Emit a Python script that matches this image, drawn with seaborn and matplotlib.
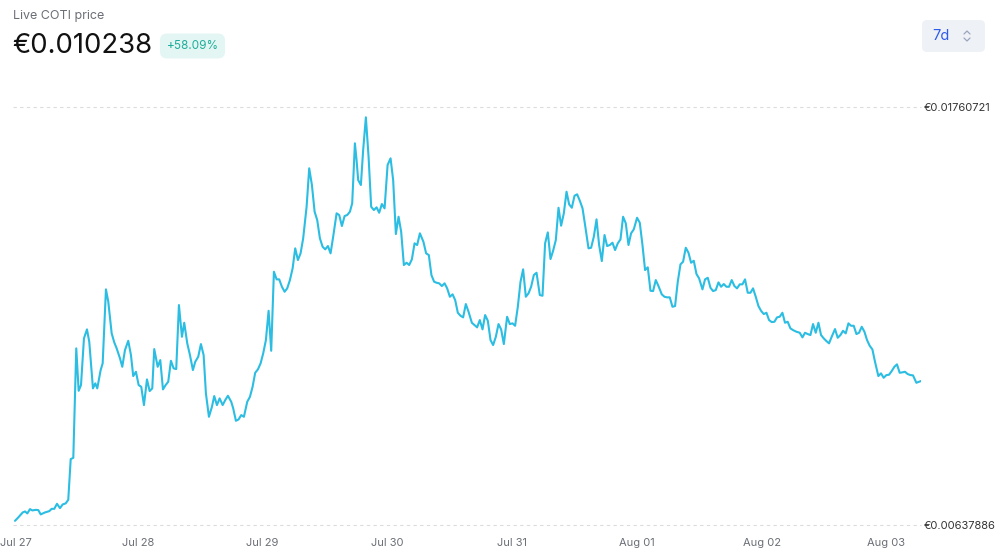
import matplotlib.pyplot as plt
import matplotlib.dates as mdates
from matplotlib.patches import FancyBboxPatch
from matplotlib.lines import Line2D
from matplotlib.transforms import IdentityTransform, ScaledTranslation
import pandas as pd
import seaborn as sns

# hours since Jul 27 00:00, price in EUR
hours = [
    0.38, 1.02, 1.87, 2.31, 2.75, 3.27, 3.71, 4.42, 4.87, 5.33, 6.15, 6.98, 7.44, 7.94,
    8.46, 9.04, 9.56, 10.13, 10.63, 11.10, 11.60, 12.17, 12.63, 13.08, 13.65, 14.23, 14.67,
    15.38, 15.83, 16.21, 16.86, 17.25, 17.88, 18.33, 18.98, 19.48, 19.94, 20.58, 21.02,
    21.54, 22.17, 22.69, 23.13, 23.65, 24.17, 24.67, 25.19, 25.77, 26.29, 26.79, 27.17,
    27.83, 28.33, 28.85, 29.36, 29.86, 30.38, 30.90, 31.40, 31.92, 32.50, 32.94, 33.52,
    34.04, 34.61, 35.06, 35.63, 36.15, 36.67, 37.11, 37.69, 38.27, 38.71, 39.23, 39.75,
    40.33, 40.83, 41.34, 41.98, 42.36, 42.88, 43.40, 43.90, 44.42, 45.06, 45.58, 46.09,
    46.59, 47.11, 47.63, 48.13, 48.65, 49.17, 49.67, 50.19, 50.71, 51.21, 51.73, 52.25,
    52.75, 53.27, 53.79, 54.29, 54.81, 55.32, 55.82, 56.48, 56.98, 57.50, 58.02, 58.52,
    59.04, 59.56, 60.06, 60.58, 61.09, 61.59, 62.25, 62.75, 63.27, 63.79, 64.29, 64.81,
    65.25, 65.77, 66.09, 66.40, 66.92, 67.36, 67.88, 68.40, 68.90, 69.42, 69.94, 70.44,
    70.96, 71.48, 72.06, 72.63, 73.13, 73.65, 74.17, 74.67, 75.19, 75.71, 76.21, 76.73,
    77.25, 77.75, 78.27, 78.95, 79.47, 79.99, 80.49, 81.01, 81.48, 81.98, 82.50, 83.02,
    83.52, 84.04, 84.56, 85.06, 85.57, 86.09, 86.59, 87.11, 87.63, 88.27, 88.78, 89.28,
    89.80, 90.32, 90.82, 91.34, 91.86, 92.36, 92.88, 93.40, 93.90, 94.42, 95.05, 95.57,
    96.09, 96.59, 97.11, 97.63, 98.13, 98.65, 99.17, 99.67, 100.19, 100.71, 101.34, 101.86,
    102.36, 102.88, 103.40, 103.90, 104.42, 104.94, 105.44, 105.96, 106.48, 106.98, 107.50,
    108.02, 108.52, 109.04, 109.56, 110.05, 110.71, 111.21, 111.73, 112.25, 112.75, 113.27,
    113.79, 114.29, 114.80, 115.32, 115.82, 116.34, 116.86, 117.36, 117.88, 118.40, 118.90,
    119.42, 120.05, 120.57, 121.09, 121.59, 122.11, 122.63, 123.13, 123.65, 124.17, 124.80,
    125.32, 125.82, 126.34, 126.86, 127.36, 127.88, 128.40, 128.90, 129.42, 129.94, 130.44,
    130.96, 131.48, 131.98, 132.63, 133.13, 133.65, 134.17, 134.67, 135.19, 135.71, 136.21,
    136.73, 137.24, 137.74, 138.26, 138.78, 139.28, 139.80, 140.32, 140.82, 141.34, 141.86,
    142.36, 142.88, 143.40, 143.90, 144.42, 144.94, 145.44, 145.96, 146.47, 146.97, 147.49,
    148.01, 148.51, 149.03, 149.55, 150.05, 150.71, 151.34, 151.86, 152.36, 152.88, 153.40,
    153.90, 154.42, 154.94, 155.44, 155.96, 156.48, 156.98, 157.49, 158.13, 158.65, 159.17,
    159.67, 160.19, 160.71, 161.21, 161.73, 162.25, 162.75, 163.27, 163.79, 164.29, 164.80,
    165.32, 165.82, 166.47, 166.97, 167.49, 168.01, 168.51, 169.03, 169.55, 170.05, 170.57,
    171.09, 171.59, 172.11, 172.63, 173.13, 173.78, 174.28, 174.67,
]
prices = [
    0.006478, 0.006570, 0.006704, 0.006731, 0.006678, 0.006793, 0.006758, 0.006774, 0.006766,
    0.006651, 0.006704, 0.006739, 0.006801, 0.006801, 0.006936, 0.006820, 0.006920, 0.006947,
    0.007043, 0.008138, 0.008173, 0.011116, 0.009975, 0.010129, 0.011385, 0.011627, 0.011294,
    0.010040, 0.010175, 0.010040, 0.010532, 0.010713, 0.012703, 0.012370, 0.011520, 0.011277,
    0.011116, 0.010847, 0.010621, 0.011070, 0.011320, 0.010936, 0.010371, 0.010487, 0.010129,
    0.010083, 0.009591, 0.010282, 0.009967, 0.010040, 0.011097, 0.010621, 0.010801, 0.010013,
    0.010129, 0.010218, 0.010782, 0.010578, 0.010559, 0.012281, 0.011428, 0.011805, 0.011251,
    0.010936, 0.010532, 0.010756, 0.010890, 0.011232, 0.010936, 0.009906, 0.009276, 0.009545,
    0.009833, 0.009591, 0.009771, 0.009591, 0.009725, 0.009841, 0.009680, 0.009502, 0.009168,
    0.009206, 0.009322, 0.009276, 0.009680, 0.009814, 0.010083, 0.010460, 0.010551, 0.010713,
    0.010982, 0.011339, 0.012127, 0.011051, 0.013177, 0.012972, 0.012972, 0.012773, 0.012639,
    0.012730, 0.012953, 0.013268, 0.013806, 0.013491, 0.013672, 0.014075, 0.014925, 0.015958,
    0.015509, 0.014791, 0.014567, 0.014075, 0.013849, 0.013779, 0.013868, 0.013672, 0.014118,
    0.014748, 0.014702, 0.014406, 0.014675, 0.014702, 0.014791, 0.015017, 0.016631, 0.016181,
    0.015643, 0.015509, 0.016450, 0.017330, 0.016270, 0.014925, 0.014836, 0.014909, 0.014764,
    0.014998, 0.014882, 0.016047, 0.016227, 0.015643, 0.014191, 0.014656, 0.014253, 0.013357,
    0.013419, 0.013357, 0.013510, 0.013941, 0.013895, 0.014210, 0.013984, 0.013672, 0.013626,
    0.013088, 0.012908, 0.012881, 0.012865, 0.012792, 0.012865, 0.012730, 0.012504, 0.012569,
    0.012415, 0.012074, 0.011993, 0.011950, 0.012308, 0.012101, 0.011805, 0.011743, 0.011681,
    0.011877, 0.011627, 0.012012, 0.011858, 0.011339, 0.011205, 0.011428, 0.011770, 0.011627,
    0.011232, 0.011966, 0.011770, 0.011789, 0.011724, 0.012235, 0.012908, 0.013241, 0.012504,
    0.012596, 0.012773, 0.013088, 0.013150, 0.012550, 0.012531, 0.013941, 0.014236, 0.013518,
    0.013741, 0.014029, 0.014898, 0.014414, 0.014748, 0.015329, 0.014990, 0.014898, 0.015221,
    0.015259, 0.015086, 0.014882, 0.014433, 0.013806, 0.013822, 0.014118, 0.014586, 0.013895,
    0.013464, 0.014164, 0.013868, 0.013895, 0.013957, 0.013760, 0.013941, 0.014048, 0.014656,
    0.014479, 0.013895, 0.014210, 0.014317, 0.014629, 0.014495, 0.013895, 0.013222, 0.013295,
    0.012665, 0.012657, 0.012953, 0.012792, 0.012569, 0.012504, 0.012488, 0.012488, 0.012235,
    0.012254, 0.012908, 0.013376, 0.013446, 0.013822, 0.013688, 0.013419, 0.013472, 0.013115,
    0.012999, 0.012703, 0.012972, 0.013015, 0.012746, 0.012657, 0.012684, 0.012891, 0.012773,
    0.012846, 0.012773, 0.012773, 0.012953, 0.012792, 0.012730, 0.012838, 0.012838, 0.012972,
    0.012612, 0.012612, 0.012730, 0.012504, 0.012254, 0.012127, 0.012039, 0.012074, 0.011877,
    0.011823, 0.011831, 0.011950, 0.011966, 0.012074, 0.011805, 0.011831, 0.011654, 0.011608,
    0.011563, 0.011536, 0.011412, 0.011536, 0.011501, 0.011474, 0.011770, 0.011536, 0.011805,
    0.011474, 0.011385, 0.011312, 0.011251, 0.011428, 0.011635, 0.011401, 0.011474, 0.011589,
    0.011520, 0.011789, 0.011724, 0.011724, 0.011501, 0.011536, 0.011697, 0.011563, 0.011339,
    0.011186, 0.011089, 0.010756, 0.010371, 0.010444, 0.010325, 0.010398, 0.010406, 0.010505,
    0.010621, 0.010686, 0.010460, 0.010471, 0.010487, 0.010425, 0.010398, 0.010390, 0.010191,
    0.010218, 0.010238,
]
start = pd.Timestamp("2021-07-27")
y_low, y_high = 0.00637886, 0.01760721
price_now = "€0.010238"
change_7d = "+58.09%"
period = "7d"

sns.set_style("white")
plt.rcParams["font.family"] = ["Inter", "DejaVu Sans"]

df = pd.DataFrame({"time": start + pd.to_timedelta(hours, unit="h"), "price": prices})

fig = plt.figure(figsize=(10, 5.57), dpi=100)
ax = fig.add_axes([0.013, 0.0583, 0.908, 0.7496])
sns.lineplot(data=df, x="time", y="price", ax=ax, color="#2bbde2", linewidth=1.5)

ax.set_xlim(start, start + pd.Timedelta(hours=174.67))
ax.set_ylim(y_low, y_high)
ax.set_xlabel("")
ax.set_ylabel("")
for s in ax.spines.values():
    s.set_visible(False)

ax.yaxis.tick_right()
ax.set_yticks([y_low, y_high])
ax.set_yticklabels([f"€{v:.8f}" for v in (y_low, y_high)])
ax.tick_params(axis="y", length=0, pad=2, labelsize=8, labelcolor="#333333")
ax.grid(axis="y", linestyle=(0, (3, 3)), color="#dcdcdc", linewidth=0.8)
ax.grid(axis="x", visible=False)
for gl in ax.get_ygridlines():
    gl.set_clip_on(False)

ax.xaxis.set_major_locator(mdates.DayLocator())
ax.xaxis.set_major_formatter(mdates.DateFormatter("%b %d"))
ax.tick_params(axis="x", length=0, pad=10, labelsize=8, labelcolor="#6b6f76")
# first date label sits on the left edge, nudge it in a little
fig.canvas.draw()
first = ax.get_xticklabels()[0]
first.set_transform(first.get_transform() + ScaledTranslation(2 / 72, 0, fig.dpi_scale_trans))

# header
fig.text(0.013, 1 - 16 / 557, "Live COTI price", fontsize=9, color="#6b6f76", va="center")
fig.text(0.012, 1 - 46 / 557, price_now, fontsize=19.8, color="#111111", va="center")
fig.text(0.1925, 1 - 46 / 557, change_7d, fontsize=8.5, color="#1fae9b", ha="center", va="center",
         bbox=dict(boxstyle="round,pad=0.55,rounding_size=0.6", fc="#e4f6f4", ec="none"))

# period selector
fig.add_artist(FancyBboxPatch((922, 557 - 52), 63, 32, boxstyle="round,pad=0,rounding_size=5",
                              transform=IdentityTransform(), fc="#eef1f6", ec="none"))
fig.text(0.941, 1 - 36 / 557, period, fontsize=10.5, color="#2f5bea", ha="center", va="center")
fig.add_artist(Line2D([0.964, 0.967, 0.970], [1 - 34 / 557, 1 - 31 / 557, 1 - 34 / 557],
                      color="#9aa5c0", linewidth=0.9))
fig.add_artist(Line2D([0.964, 0.967, 0.970], [1 - 38 / 557, 1 - 41 / 557, 1 - 38 / 557],
                      color="#9aa5c0", linewidth=0.9))

fig.savefig("out.png", dpi=100)
